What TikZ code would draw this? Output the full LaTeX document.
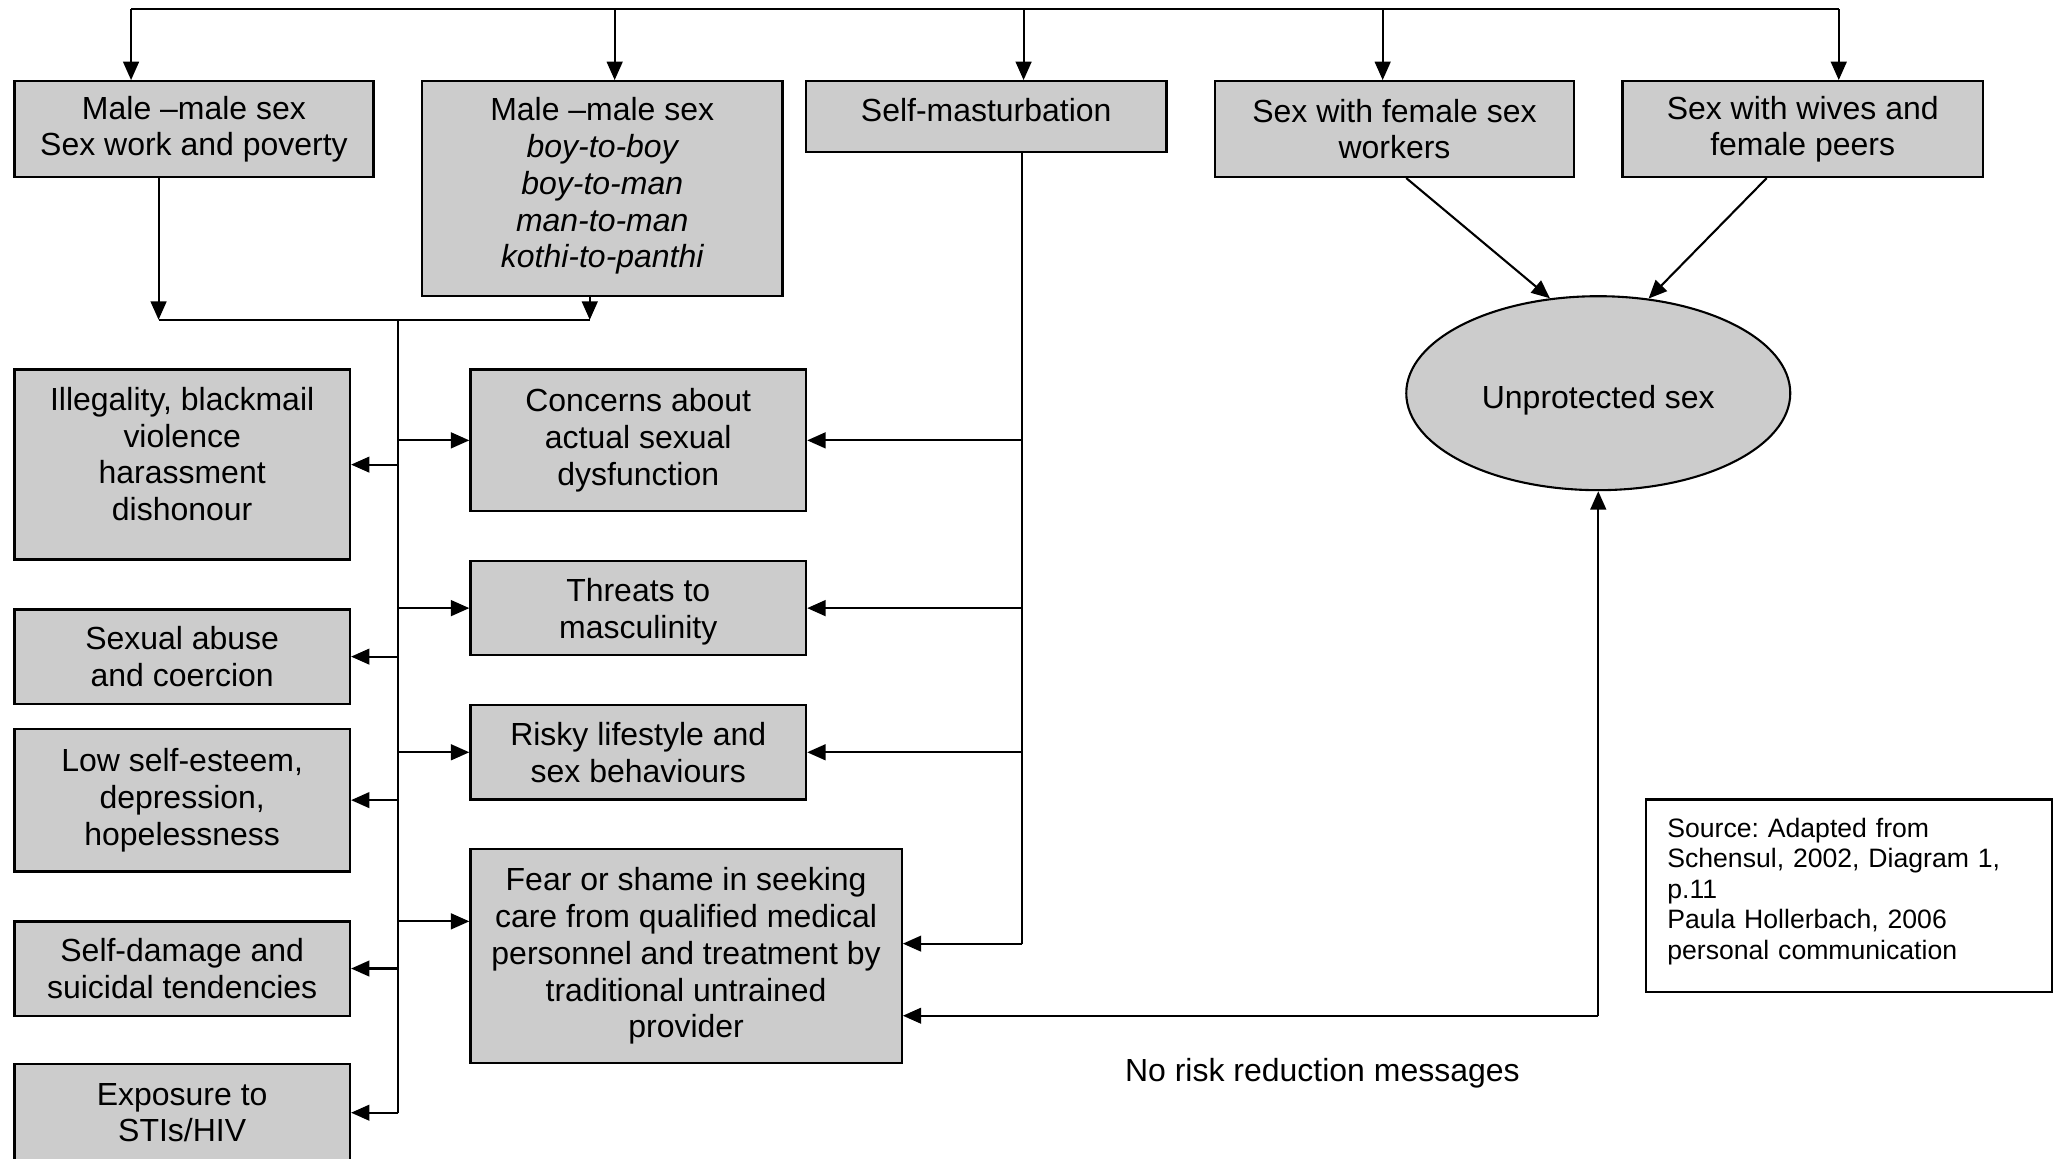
\documentclass[tikz,border=0pt]{standalone}
\usepackage{fontspec}
\setmainfont{Liberation Sans}
\usetikzlibrary{arrows.meta,shapes.geometric,calc}
\definecolor{boxgrey}{RGB}{204,204,204}
\begin{document}
\frenchspacing
\begin{tikzpicture}[x=1pt,y=-1pt,
  box/.style={draw=black, line width=1.8pt, fill=boxgrey, align=center, inner sep=0pt,
    font=\fontsize{24.4}{28}\selectfont},
  boxtext/.style={align=center, inner sep=0pt, font=\fontsize{24.4}{28}\selectfont},
  conn/.style={line width=1.6pt, -{Triangle[length=14pt,width=12pt]}},
  plainline/.style={line width=1.6pt}]
\useasboundingbox (0,0) rectangle (1568,884);
% top row
\node[box, minimum width=274pt, minimum height=73pt] (A) at (148,98.5) {Male --male sex\\Sex work and poverty};
\node[box, minimum width=275pt, minimum height=164pt] (B) at (459.5,144) {};
\node[boxtext] (Bt) at (459.5,142) {Male --male sex\\\itshape boy-to-boy\\\itshape boy-to-man\\\itshape man-to-man\\\itshape kothi-to-panthi};
\node[box, minimum width=275pt, minimum height=54pt] (C) at (752.5,89) {};
\node[boxtext] (Ct) at (752.5,84) {Self-masturbation};
\node[box, minimum width=274pt, minimum height=73pt] (D) at (1064,98.5) {Sex with female sex\\workers};
\node[box, minimum width=275pt, minimum height=73pt] (E) at (1375.5,98.5) {Sex with wives and\\female peers};
% left column
\node[box, minimum width=256pt, minimum height=145pt] (Ill) at (139,354.5) {};
\node[boxtext] (Illt) at (139,346.5) {Illegality, blackmail\\violence\\harassment\\dishonour};
\node[box, minimum width=256pt, minimum height=72pt] (Abuse) at (139,501) {Sexual abuse\\and coercion};
\node[box, minimum width=256pt, minimum height=109pt] (Low) at (139,610.5) {Low self-esteem,\\depression,\\hopelessness};
\node[box, minimum width=256pt, minimum height=72pt] (Damage) at (139,739) {Self-damage and\\suicidal tendencies};
\node[box, minimum width=256pt, minimum height=74pt] (Expo) at (139,849) {Exposure to\\STIs/HIV};
% middle column
\node[box, minimum width=256pt, minimum height=108pt] (Conc) at (487,336) {Concerns about\\actual sexual\\dysfunction};
\node[box, minimum width=256pt, minimum height=72pt] (Threat) at (487,464) {};
\node[boxtext] (Threatt) at (487,467) {Threats to\\masculinity};
\node[box, minimum width=256pt, minimum height=72pt] (Risky) at (487,574) {Risky lifestyle and\\sex behaviours};
\node[box, minimum width=329pt, minimum height=163pt] (Fear) at (523.5,729.5) {Fear or shame in seeking\\care from qualified medical\\personnel and treatment by\\traditional untrained\\provider};
% ellipse
\node[box, ellipse, line width=1.6pt, minimum width=293pt, minimum height=148pt] (U) at (1219.5,300) {};
\node[boxtext] (Ut) at (1219.5,305) {Unprotected sex};
% source
\node[draw=black, line width=1.6pt, fill=white, minimum width=310pt, minimum height=147pt] (Src) at (1411,683.5) {};
\node[text width=278pt, inner sep=0pt, align=left, anchor=north west,
  font=\fontsize{20.3}{23.3}\selectfont] (Srct) at (1272,624)
  {Source: Adapted from\\Schensul, 2002, Diagram 1,\\p.11\\Paula Hollerbach, 2006\\personal communication};
\node[boxtext] (NoRisk) at (1009,819) {No risk reduction messages};
% top distribution line
\coordinate (tA) at (100,7);
\coordinate (tB) at (469,7);
\coordinate (tC) at (781,7);
\coordinate (tD) at (1055,7);
\coordinate (tE) at (1403,7);
\draw[plainline] (tA) -- (tE);
\draw[conn] (tA) -- (tA |- A.north);
\draw[conn] (tB) -- (tB |- B.north);
\draw[conn] (tC) -- (tC |- C.north);
\draw[conn] (tD) -- (tD |- D.north);
\draw[conn] (tE) -- (tE |- E.north);
% merge of male-male sex boxes
\coordinate (mL) at (121,244);
\coordinate (mR) at (450,244);
\coordinate (spT) at (304,244);
\coordinate (spB) at (304,849);
\draw[conn] (mL |- A.south) -- (mL);
\draw[conn] (mR |- B.south) -- (mR);
\draw[plainline] (mL) -- (mR);
\draw[plainline] (spT) -- (spB);
\draw[conn] (spT |- Ill.east) -- (Ill.east);
\draw[conn] (spT |- Abuse.east) -- (Abuse.east);
\draw[conn] (spT |- Low.east) -- (Low.east);
\draw[conn] (spT |- Damage.east) -- (Damage.east);
\draw[conn] (spB) -- (Expo.east);
\draw[conn] (spT |- Conc.west) -- (Conc.west);
\draw[conn] (spT |- Threat.west) -- (Threat.west);
\draw[conn] (spT |- Risky.west) -- (Risky.west);
\coordinate (fL) at (304,703);
\draw[conn] (fL) -- (Fear.west |- fL);
% self-masturbation spine
\coordinate (msT) at (780,116);
\coordinate (msB) at (780,720);
\draw[plainline] (msT) -- (msB);
\draw[conn] (msT |- Conc.east) -- (Conc.east);
\draw[conn] (msT |- Threat.east) -- (Threat.east);
\draw[conn] (msT |- Risky.east) -- (Risky.east);
\draw[conn] (msB) -- (Fear.east |- msB);
% to unprotected sex
\draw[conn] ($(D.south)+(9,0)$) -- (U.117);
\draw[conn] ($(E.south)+(-27.5,0)$) -- (U.62);
\coordinate (br) at (1219.5,775);
\draw[conn] (br) -- (U.south);
\draw[conn] (br) -- (Fear.east |- br);
\end{tikzpicture}
\end{document}
